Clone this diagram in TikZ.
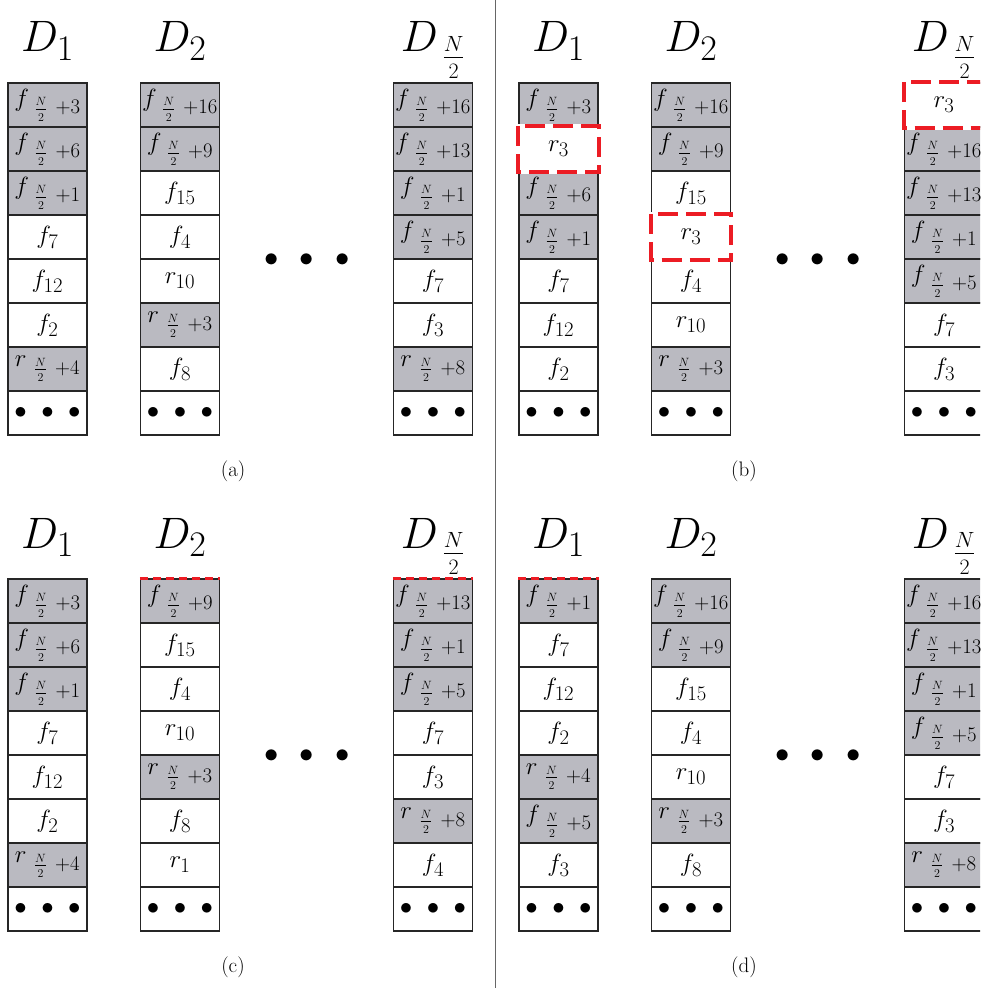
\RequirePackage{fix-cm}
\documentclass[tikz,border=0pt]{standalone}
\usepackage{tikz}
\usetikzlibrary{positioning}

\DeclareMathSizes{24.88}{24.88}{20.74}{12}
\DeclareMathSizes{44}{44}{36}{22}
\DeclareMathSizes{21}{21}{15}{11}

\newcommand{\hN}{\mkern7mu\frac{N}{2}\mkern7mu}

\definecolor{cellgray}{RGB}{186,186,193}
\definecolor{markred}{RGB}{236,28,36}

\begin{document}
\begin{tikzpicture}[
    x=1pt, y=-1pt,
    cell/.style={
        rectangle,
        draw=black!85,
        line width=1.2pt,
        fill=white,
        minimum width=79pt,
        minimum height=44pt,
        inner sep=0pt,
        font=\fontsize{24.88}{30}\selectfont
    },
    used/.style={
        cell,
        fill=cellgray
    },
    free/.style={
        cell
    },
    disk/.style={
        anchor=base,
        font=\fontsize{44}{50}\selectfont
    },
    gap/.style={
        scale=1.15,
        font=\fontsize{24.88}{30}\selectfont
    },
    caption/.style={
        font=\fontsize{21}{25}\selectfont
    },
    movedbox/.style={
        draw=markred,
        line width=4pt,
        dash pattern=on 20pt off 8pt,
        preaction={draw=white, solid, line width=4pt}
    },
    topline/.style={
        draw=markred,
        line width=3pt,
        dash pattern=on 8pt off 5pt
    },
    divider/.style={
        draw=black!60,
        line width=1pt
    }
]
    \clip (0,0) rectangle (980,990);

    % Panel (a)
    \node[disk] (a-d1) at (47.5,52) {$D_1$};
    \node[disk] (a-d2) at (180,52) {$D_2$};
    \node[disk] (a-dn) at (433,52) {$D_{\mkern3mu\frac{N}{2}}$};
    \foreach \lab/\kind [count=\i] in {{$f_{\hN+3}$}/used, {$f_{\hN+6}$}/used, {$f_{\hN+1}$}/used, {$f_7$}/free, {$f_{12}$}/free, {$f_2$}/free, {$r_{\hN+4}$}/used, {$\bullet\hspace{9pt}\bullet\hspace{9pt}\bullet$}/free}
        \node[\kind] (a1-\i) at (47.5,{61+44*\i}) {\lab};
    \foreach \lab/\kind [count=\i] in {{$f_{\hN+16}$}/used, {$f_{\hN+9}$}/used, {$f_{15}$}/free, {$f_4$}/free, {$r_{10}$}/free, {$r_{\hN+3}$}/used, {$f_8$}/free, {$\bullet\hspace{9pt}\bullet\hspace{9pt}\bullet$}/free}
        \node[\kind] (a2-\i) at (180,{61+44*\i}) {\lab};
    \foreach \lab/\kind [count=\i] in {{$f_{\hN+16}$}/used, {$f_{\hN+13}$}/used, {$f_{\hN+1}$}/used, {$f_{\hN+5}$}/used, {$f_7$}/free, {$f_3$}/free, {$r_{\hN+8}$}/used, {$\bullet\hspace{9pt}\bullet\hspace{9pt}\bullet$}/free}
        \node[\kind] (an-\i) at (433,{61+44*\i}) {\lab};
    \node[gap] (a-gap) at (307,260) {$\bullet\hspace{13pt}\bullet\hspace{13pt}\bullet$};
    \node[caption] (a-cap) at (233,471) {$(\mathrm{a})$};

    % Panel (b)
    \begin{scope}[shift={(511,0)}]
        \node[disk] (b-d1) at (47.5,52) {$D_1$};
        \node[disk] (b-d2) at (180,52) {$D_2$};
        \node[disk] (b-dn) at (433,52) {$D_{\mkern3mu\frac{N}{2}}$};
        \foreach \lab/\kind [count=\i] in {{$f_{\hN+3}$}/used, {$r_3$}/free, {$f_{\hN+6}$}/used, {$f_{\hN+1}$}/used, {$f_7$}/free, {$f_{12}$}/free, {$f_2$}/free, {$\bullet\hspace{9pt}\bullet\hspace{9pt}\bullet$}/free}
            \node[\kind] (b1-\i) at (47.5,{61+44*\i}) {\lab};
        \foreach \lab/\kind [count=\i] in {{$f_{\hN+16}$}/used, {$f_{\hN+9}$}/used, {$f_{15}$}/free, {$r_3$}/free, {$f_4$}/free, {$r_{10}$}/free, {$r_{\hN+3}$}/used, {$\bullet\hspace{9pt}\bullet\hspace{9pt}\bullet$}/free}
            \node[\kind] (b2-\i) at (180,{61+44*\i}) {\lab};
        \foreach \lab/\kind [count=\i] in {{$r_3$}/free, {$f_{\hN+16}$}/used, {$f_{\hN+13}$}/used, {$f_{\hN+1}$}/used, {$f_{\hN+5}$}/used, {$f_7$}/free, {$f_3$}/free, {$\bullet\hspace{9pt}\bullet\hspace{9pt}\bullet$}/free}
            \node[\kind] (bn-\i) at (433,{61+44*\i}) {\lab};
        \node[gap] (b-gap) at (307,260) {$\bullet\hspace{13pt}\bullet\hspace{13pt}\bullet$};
        \node[caption] (b-cap) at (233,471) {$(\mathrm{b})$};
    \end{scope}

    % moved blocks
    \draw[movedbox] (b1-2.north west) rectangle (b1-2.south east);
    \draw[movedbox] (b2-4.north west) rectangle (b2-4.south east);
    \draw[movedbox] (bn-1.north west) rectangle (bn-1.south east);

    % Panel (c)
    \begin{scope}[shift={(0,496)}]
        \node[disk] (c-d1) at (47.5,52) {$D_1$};
        \node[disk] (c-d2) at (180,52) {$D_2$};
        \node[disk] (c-dn) at (433,52) {$D_{\mkern3mu\frac{N}{2}}$};
        \foreach \lab/\kind [count=\i] in {{$f_{\hN+3}$}/used, {$f_{\hN+6}$}/used, {$f_{\hN+1}$}/used, {$f_7$}/free, {$f_{12}$}/free, {$f_2$}/free, {$r_{\hN+4}$}/used, {$\bullet\hspace{9pt}\bullet\hspace{9pt}\bullet$}/free}
            \node[\kind] (c1-\i) at (47.5,{61+44*\i}) {\lab};
        \foreach \lab/\kind [count=\i] in {{$f_{\hN+9}$}/used, {$f_{15}$}/free, {$f_4$}/free, {$r_{10}$}/free, {$r_{\hN+3}$}/used, {$f_8$}/free, {$r_1$}/free, {$\bullet\hspace{9pt}\bullet\hspace{9pt}\bullet$}/free}
            \node[\kind] (c2-\i) at (180,{61+44*\i}) {\lab};
        \foreach \lab/\kind [count=\i] in {{$f_{\hN+13}$}/used, {$f_{\hN+1}$}/used, {$f_{\hN+5}$}/used, {$f_7$}/free, {$f_3$}/free, {$r_{\hN+8}$}/used, {$f_4$}/free, {$\bullet\hspace{9pt}\bullet\hspace{9pt}\bullet$}/free}
            \node[\kind] (cn-\i) at (433,{61+44*\i}) {\lab};
        \node[gap] (c-gap) at (307,260) {$\bullet\hspace{13pt}\bullet\hspace{13pt}\bullet$};
        \node[caption] (c-cap) at (233,471) {$(\mathrm{c})$};
    \end{scope}
    \draw[topline] (c2-1.north west) -- (c2-1.north east);
    \draw[topline] (cn-1.north west) -- (cn-1.north east);

    % Panel (d)
    \begin{scope}[shift={(511,496)}]
        \node[disk] (d-d1) at (47.5,52) {$D_1$};
        \node[disk] (d-d2) at (180,52) {$D_2$};
        \node[disk] (d-dn) at (433,52) {$D_{\mkern3mu\frac{N}{2}}$};
        \foreach \lab/\kind [count=\i] in {{$f_{\hN+1}$}/used, {$f_7$}/free, {$f_{12}$}/free, {$f_2$}/free, {$r_{\hN+4}$}/used, {$f_{\hN+5}$}/used, {$f_3$}/free, {$\bullet\hspace{9pt}\bullet\hspace{9pt}\bullet$}/free}
            \node[\kind] (d1-\i) at (47.5,{61+44*\i}) {\lab};
        \foreach \lab/\kind [count=\i] in {{$f_{\hN+16}$}/used, {$f_{\hN+9}$}/used, {$f_{15}$}/free, {$f_4$}/free, {$r_{10}$}/free, {$r_{\hN+3}$}/used, {$f_8$}/free, {$\bullet\hspace{9pt}\bullet\hspace{9pt}\bullet$}/free}
            \node[\kind] (d2-\i) at (180,{61+44*\i}) {\lab};
        \foreach \lab/\kind [count=\i] in {{$f_{\hN+16}$}/used, {$f_{\hN+13}$}/used, {$f_{\hN+1}$}/used, {$f_{\hN+5}$}/used, {$f_7$}/free, {$f_3$}/free, {$r_{\hN+8}$}/used, {$\bullet\hspace{9pt}\bullet\hspace{9pt}\bullet$}/free}
            \node[\kind] (dn-\i) at (433,{61+44*\i}) {\lab};
        \node[gap] (d-gap) at (307,260) {$\bullet\hspace{13pt}\bullet\hspace{13pt}\bullet$};
        \node[caption] (d-cap) at (233,471) {$(\mathrm{d})$};
    \end{scope}
    \draw[topline] (d1-1.north west) -- (d1-1.north east);

    % Divider
    \coordinate (sep-top) at (495,0);
    \coordinate (sep-bot) at (495,988);
    \draw[divider] (sep-top) -- (sep-bot);

\end{tikzpicture}
\end{document}
